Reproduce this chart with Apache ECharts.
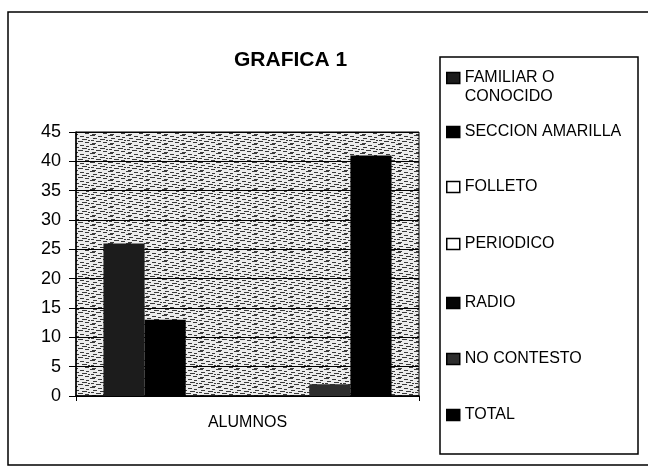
<!DOCTYPE html>
<html>
<head>
<meta charset="utf-8">
<script src="https://cdn.jsdelivr.net/npm/echarts@6/dist/echarts.min.js"></script>
<style>
  html, body { margin: 0; padding: 0; background: #fff; }
  #chart { width: 648px; height: 469px; }
</style>
</head>
<body>
<div id="chart"></div>
<script>
// datos de la grafica
const categories = ['ALUMNOS'];
const seriesNames = ['FAMILIAR O CONOCIDO', 'SECCION AMARILLA', 'FOLLETO', 'PERIODICO', 'RADIO', 'NO CONTESTO', 'TOTAL'];
const seriesValues = [26, 13, 0, 0, 0, 2, 41];
const yTicks = [0, 5, 10, 15, 20, 25, 30, 35, 40, 45];

// estilos
const fillColors = ['#1c1c1c', '#000000', '#ffffff', '#ffffff', '#050505', '#2e2e2e', '#000000'];
const legendCenters = [78, 132, 187, 244, 303, 359, 415];
const font = "'Liberation Sans', Arial, sans-serif";

// fondo punteado del area de trazado (como el escaneo)
function makeSpeckle() {
  var c = document.createElement('canvas');
  c.width = 18;
  c.height = 9;
  var ctx = c.getContext('2d');
  ctx.fillStyle = '#ececec';
  ctx.fillRect(0, 0, 18, 9);
  ctx.fillStyle = '#3a3a3a';
  var dashes = [[0, 0, 5], [8, 1, 4], [14, 2, 3], [3, 3, 4], [10, 4, 5], [1, 5, 3], [6, 6, 5], [13, 7, 4], [2, 8, 4], [16, 5, 2]];
  dashes.forEach(function (d) { ctx.fillRect(d[0], d[1], d[2], 1); });
  return c;
}

var chartDom = document.getElementById('chart');
var myChart = echarts.init(chartDom);
var option;

var legends = seriesNames.map(function (name, i) {
  var first = i === 0;
  return {
    data: [name],
    left: 446,
    top: first ? legendCenters[i] - 28.5 : legendCenters[i] - 9.5,
    padding: 0,
    icon: 'rect',
    itemWidth: 13,
    itemHeight: 11,
    selectedMode: false,
    itemStyle: { borderColor: '#000', borderWidth: 1.5 },
    formatter: first ? ' \nFAMILIAR O\nCONOCIDO' : '{name}',
    textStyle: { fontFamily: font, fontSize: 16, color: '#000', lineHeight: 19 }
  };
});

option = {
  animation: false,
  title: {
    text: 'GRAFICA 1',
    left: 229,
    top: 45,
    textStyle: { fontFamily: font, fontSize: 21, fontWeight: 'bold', color: '#000' }
  },
  legend: legends,
  grid: {
    left: 76,
    right: 229,
    top: 132,
    bottom: 73,
    show: true,
    backgroundColor: { image: makeSpeckle(), repeat: 'repeat' },
    borderColor: '#000',
    borderWidth: 1
  },
  xAxis: {
    type: 'category',
    data: categories,
    axisLine: { lineStyle: { color: '#000', width: 1.5 } },
    axisTick: { show: true, length: 5, lineStyle: { color: '#000' } },
    axisLabel: { color: '#000', fontFamily: font, fontSize: 16, margin: 19 }
  },
  yAxis: {
    type: 'value',
    min: yTicks[0],
    max: yTicks[yTicks.length - 1],
    interval: yTicks[1] - yTicks[0],
    axisLine: { show: true, lineStyle: { color: '#000', width: 1.5 } },
    axisTick: { show: true, length: 7, lineStyle: { color: '#000' } },
    axisLabel: { color: '#000', fontFamily: font, fontSize: 18, margin: 15 },
    splitLine: { show: true, lineStyle: { color: '#000', width: 1.2 } }
  },
  series: seriesNames.map(function (name, i) {
    return {
      name: name,
      type: 'bar',
      barGap: '0%',
      barCategoryGap: '16%',
      data: [seriesValues[i]],
      itemStyle: { color: fillColors[i] }
    };
  }),
  graphic: [
    {
      type: 'rect',
      shape: { x: 8, y: 12, width: 660, height: 453 },
      style: { fill: 'none', stroke: '#000', lineWidth: 1.5 },
      silent: true
    },
    {
      type: 'rect',
      shape: { x: 440, y: 57, width: 198, height: 397 },
      style: { fill: 'none', stroke: '#000', lineWidth: 1.5 },
      silent: true
    }
  ]
};

option && myChart.setOption(option);
</script>
</body>
</html>
